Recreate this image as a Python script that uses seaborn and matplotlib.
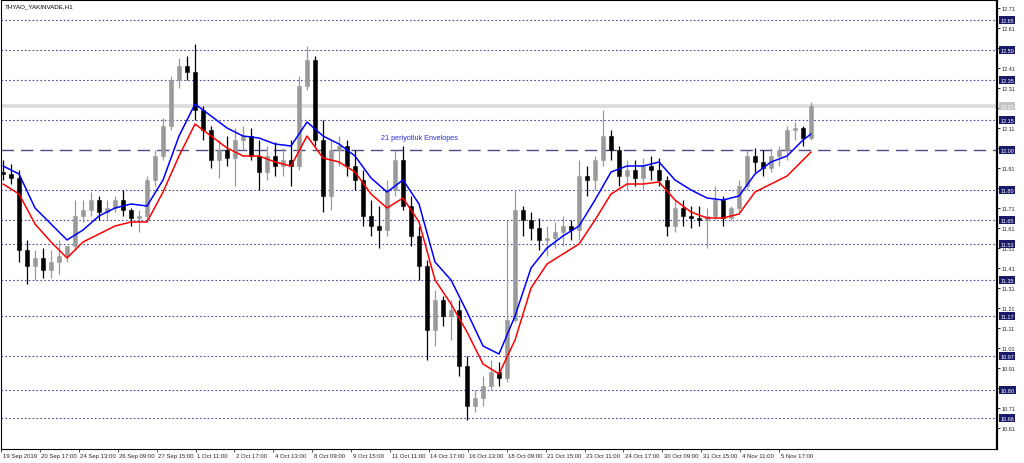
import numpy as np
import pandas as pd
import matplotlib
matplotlib.use("Agg")
import matplotlib.pyplot as plt
import matplotlib.transforms as mtrans
import seaborn as sns

# ---------------- data ----------------
symbol = "THYAO_YAKINVADE,H1"
indicator_label = "21 periyotluk Envelopes"

open_ = [11.89, 11.88, 11.86, 11.50, 11.42, 11.46, 11.40, 11.44, 11.47, 11.52,
         11.67, 11.70, 11.75, 11.69, 11.71, 11.75, 11.70, 11.66, 11.67, 11.85,
         11.97, 12.12, 12.35, 12.42, 12.39, 12.20, 12.10, 11.95, 12.00, 11.96,
         12.05, 12.07, 11.97, 11.89, 11.97, 11.92, 11.95, 11.92, 12.32, 12.45,
         12.05, 11.77, 12.00, 12.02, 11.92, 11.85, 11.67, 11.62, 11.60, 11.80,
         11.95, 11.72, 11.57, 11.42, 11.10, 11.25, 11.17, 11.20, 10.92, 10.72,
         10.76, 10.82, 10.89, 10.86, 11.15, 11.70, 11.65, 11.61, 11.55, 11.56,
         11.59, 11.62, 11.60, 11.87, 11.85, 11.95, 12.07, 12.00, 11.87, 11.90,
         11.86, 11.92, 11.90, 11.85, 11.62, 11.71, 11.67, 11.66, 11.65, 11.67,
         11.75, 11.66, 11.71, 11.82, 11.97, 11.94, 11.91, 11.97, 12.00, 12.10,
         12.11, 12.06]
high = [11.95, 11.93, 11.90, 11.55, 11.50, 11.51, 11.50, 11.55, 11.52, 11.75,
        11.75, 11.79, 11.77, 11.75, 11.77, 11.80, 11.71, 11.70, 11.87, 12.00,
        12.16, 12.37, 12.46, 12.47, 12.53, 12.22, 12.12, 12.05, 12.07, 12.11,
        12.12, 12.11, 12.05, 12.02, 12.04, 12.01, 12.05, 12.37, 12.52, 12.47,
        12.15, 12.05, 12.07, 12.05, 12.00, 11.90, 11.75, 11.72, 11.85, 12.00,
        12.02, 11.77, 11.62, 11.45, 11.30, 11.27, 11.25, 11.25, 10.97, 10.80,
        10.87, 10.95, 10.94, 11.65, 11.80, 11.72, 11.69, 11.66, 11.62, 11.64,
        11.67, 11.65, 11.95, 11.92, 11.97, 12.20, 12.10, 12.02, 11.95, 11.95,
        11.96, 11.97, 11.96, 11.87, 11.75, 11.75, 11.72, 11.72, 11.71, 11.82,
        11.77, 11.72, 11.85, 12.00, 12.01, 12.00, 12.01, 12.02, 12.12, 12.14,
        12.12, 12.24]
low = [11.85, 11.83, 11.44, 11.33, 11.35, 11.36, 11.36, 11.38, 11.44, 11.50,
       11.64, 11.67, 11.65, 11.65, 11.69, 11.67, 11.62, 11.59, 11.64, 11.82,
       11.95, 12.10, 12.31, 12.35, 12.15, 12.05, 11.91, 11.86, 11.92, 11.82,
       12.00, 11.95, 11.80, 11.85, 11.87, 11.87, 11.82, 11.90, 12.30, 12.02,
       11.69, 11.70, 11.92, 11.87, 11.80, 11.62, 11.57, 11.51, 11.57, 11.77,
       11.70, 11.52, 11.35, 10.95, 11.02, 11.12, 11.05, 10.87, 10.65, 10.69,
       10.72, 10.80, 10.82, 10.84, 11.14, 11.57, 11.55, 11.50, 11.47, 11.51,
       11.52, 11.55, 11.55, 11.77, 11.80, 11.92, 11.95, 11.82, 11.80, 11.82,
       11.80, 11.85, 11.82, 11.57, 11.59, 11.62, 11.61, 11.62, 11.51, 11.65,
       11.62, 11.65, 11.69, 11.80, 11.89, 11.87, 11.89, 11.92, 11.95, 12.05,
       12.02, 12.05]
close = [11.88, 11.86, 11.50, 11.42, 11.46, 11.40, 11.44, 11.47, 11.52, 11.67,
         11.70, 11.75, 11.69, 11.71, 11.75, 11.70, 11.66, 11.67, 11.85, 11.97,
         12.12, 12.35, 12.42, 12.39, 12.20, 12.10, 11.95, 12.00, 11.96, 12.05,
         12.07, 11.97, 11.89, 11.97, 11.92, 11.95, 11.92, 12.32, 12.45, 12.05,
         11.77, 12.00, 12.02, 11.92, 11.85, 11.67, 11.62, 11.60, 11.80, 11.95,
         11.72, 11.57, 11.42, 11.10, 11.25, 11.17, 11.20, 10.92, 10.72, 10.76,
         10.82, 10.89, 10.86, 11.15, 11.70, 11.65, 11.61, 11.55, 11.56, 11.59,
         11.62, 11.60, 11.87, 11.85, 11.95, 12.07, 12.00, 11.87, 11.90, 11.86,
         11.92, 11.90, 11.85, 11.62, 11.71, 11.67, 11.66, 11.65, 11.67, 11.75,
         11.66, 11.71, 11.82, 11.97, 11.94, 11.91, 11.97, 12.00, 12.10, 12.11,
         12.06, 12.22]

env_idx = [0, 2, 4, 6, 8, 10, 12, 14, 16, 18,
           20, 22, 24, 26, 28, 30, 32, 34, 36, 38,
           40, 42, 44, 46, 48, 50, 52, 54, 56, 58,
           60, 62, 64, 66, 68, 70, 72, 74, 76, 78,
           80, 82, 84, 86, 88, 90, 92, 94, 96, 98,
           100, 101]
env_upper = [11.92, 11.88, 11.71, 11.63, 11.55, 11.60, 11.67, 11.71, 11.73, 11.72,
             11.85, 12.07, 12.23, 12.17, 12.11, 12.07, 12.06, 12.03, 12.02, 12.14,
             12.07, 12.03, 11.97, 11.86, 11.79, 11.85, 11.73, 11.44, 11.35, 11.19,
             11.02, 10.98, 11.17, 11.41, 11.51, 11.57, 11.62, 11.75, 11.89, 11.92,
             11.92, 11.94, 11.85, 11.80, 11.76, 11.75, 11.77, 11.88, 11.94, 11.97,
             12.05, 12.08]
env_lower = [11.83, 11.78, 11.63, 11.54, 11.46, 11.54, 11.58, 11.62, 11.64, 11.64,
             11.79, 11.97, 12.13, 12.07, 12.01, 11.97, 11.97, 11.94, 11.92, 12.07,
             11.96, 11.94, 11.89, 11.78, 11.71, 11.76, 11.64, 11.35, 11.23, 11.09,
             10.93, 10.88, 11.05, 11.31, 11.43, 11.48, 11.53, 11.65, 11.78, 11.83,
             11.83, 11.84, 11.75, 11.69, 11.66, 11.66, 11.68, 11.79, 11.83, 11.87,
             11.95, 11.99]

date_labels = ["19 Sep 2019", "20 Sep 17:00", "24 Sep 13:00", "26 Sep 09:00",
               "27 Sep 15:00", "1 Oct 11:00", "2 Oct 17:00", "4 Oct 13:00",
               "8 Oct 09:00", "9 Oct 15:00", "11 Oct 11:00", "14 Oct 17:00",
               "16 Oct 13:00", "18 Oct 09:00", "21 Oct 15:00", "23 Oct 11:00",
               "24 Oct 17:00", "30 Oct 09:00", "31 Oct 15:00", "4 Nov 11:00",
               "5 Nov 17:00"]

level_lines = [12.65, 12.50, 12.35, 12.15, 11.80, 11.65, 11.53, 11.35,
               11.17, 10.97, 10.80, 10.66]
pivot_level = 12.00
current_price = 12.22
axis_ticks = [10.61, 10.71, 10.81, 10.91, 11.01, 11.11, 11.21, 11.31, 11.41,
              11.51, 11.61, 11.71, 11.81, 11.91, 12.01, 12.11, 12.21, 12.31,
              12.41, 12.51, 12.61, 12.71]
hidden_ticks = [12.21]   # covered by the current-price box in the reference

# ---------------- figure ----------------
sns.set_theme(style="white")
plt.rcParams["font.family"] = ["Liberation Sans", "DejaVu Sans"]

fig = plt.figure(figsize=(10.24, 4.64), dpi=100)
ax = fig.add_axes([0.001, 14 / 464, 996 / 1024, 449 / 464])
ax.set_facecolor("white")

n = len(close)
idx = np.arange(n)
df = pd.DataFrame({"idx": idx, "open": open_, "high": high, "low": low, "close": close})
df["bull"] = df["close"] >= df["open"]

# horizontal levels
for lv in level_lines:
    ax.axhline(lv, color="#4a4a9c", lw=0.8, ls=(0, (1.5, 2.0)), zorder=1)
ax.axhline(pivot_level, color="#4d4d80", lw=1.0, ls=(0, (9, 5)), zorder=1)
ax.axhline(current_price, color="#dcdcdc", lw=2.6, zorder=0.9)

# candles
bull_c = "#9a9a9a"
bear_c = "#000000"
cols = np.where(df["bull"], bull_c, bear_c)
ax.vlines(df["idx"], df["low"], df["high"], colors=cols, lw=0.9, zorder=2)
body_bottom = np.minimum(df["open"], df["close"])
body_h = np.maximum(np.abs(df["close"] - df["open"]), 0.006)
ax.bar(df["idx"], body_h, bottom=body_bottom, width=0.48, color=cols,
       edgecolor=cols, linewidth=0.4, zorder=2.1)

# envelopes
env = pd.DataFrame({"idx": env_idx, "upper": env_upper, "lower": env_lower})
sns.lineplot(data=env, x="idx", y="upper", color="#0000ff", lw=1.1, ax=ax, zorder=3)
sns.lineplot(data=env, x="idx", y="lower", color="#ff0000", lw=1.1, ax=ax, zorder=3)

ax.set_xlim(-0.25, 124.25)
ax.set_ylim(10.505, 12.75)
ax.set_xlabel("")
ax.set_ylabel("")

# x ticks
step = 38.9 / 8.0
xt = [k * step - 0.25 for k in range(len(date_labels))]
ax.set_xticks(xt)
ax.set_xticklabels(date_labels, ha="left", fontsize=4.3)
ax.tick_params(axis="x", bottom=True, direction="out", length=2.5, width=0.6,
               pad=0.5, color="#333333")
for lab in ax.get_xticklabels():
    lab.set_transform(lab.get_transform() + mtrans.ScaledTranslation(1.5 / 100, 0, fig.dpi_scale_trans))

# y ticks on right
ax.yaxis.tick_right()
ax.set_yticks(axis_ticks)
ax.set_yticklabels(["" if t in hidden_ticks else f"{t:.2f}" for t in axis_ticks], fontsize=4.0)
ax.tick_params(axis="y", right=True, left=False, direction="out", length=2.5,
               width=0.6, pad=1.0, color="#000000")

for s in ["left", "top", "bottom"]:
    ax.spines[s].set_color("#000000")
    ax.spines[s].set_linewidth(0.8)
ax.spines["right"].set_color("#000000")
ax.spines["right"].set_linewidth(1.6)

# boxed price labels
trans = mtrans.blended_transform_factory(ax.transAxes, ax.transData)
for lv in level_lines + [pivot_level]:
    ax.text(1.0035, lv, f"{lv:.2f}", transform=trans, fontsize=4.0, color="white",
            ha="left", va="center", clip_on=False, zorder=5,
            bbox=dict(boxstyle="square,pad=0.2", fc="#1a1a6b", ec="none"))
ax.text(1.0035, current_price, f"{current_price:.2f}", transform=trans, fontsize=4.0,
        color="white", ha="left", va="center", clip_on=False, zorder=5,
        bbox=dict(boxstyle="square,pad=0.2", fc="#c4c4c4", ec="none"))

# annotations
ax.text(0.004, 0.992, symbol, transform=ax.transAxes, fontsize=4.5, color="#000000",
        ha="left", va="top")
ax.text(47.3, 12.065, indicator_label, fontsize=5.2, color="#2b2be0",
        ha="left", va="center", zorder=4)

fig.savefig("out.png", dpi=100)
